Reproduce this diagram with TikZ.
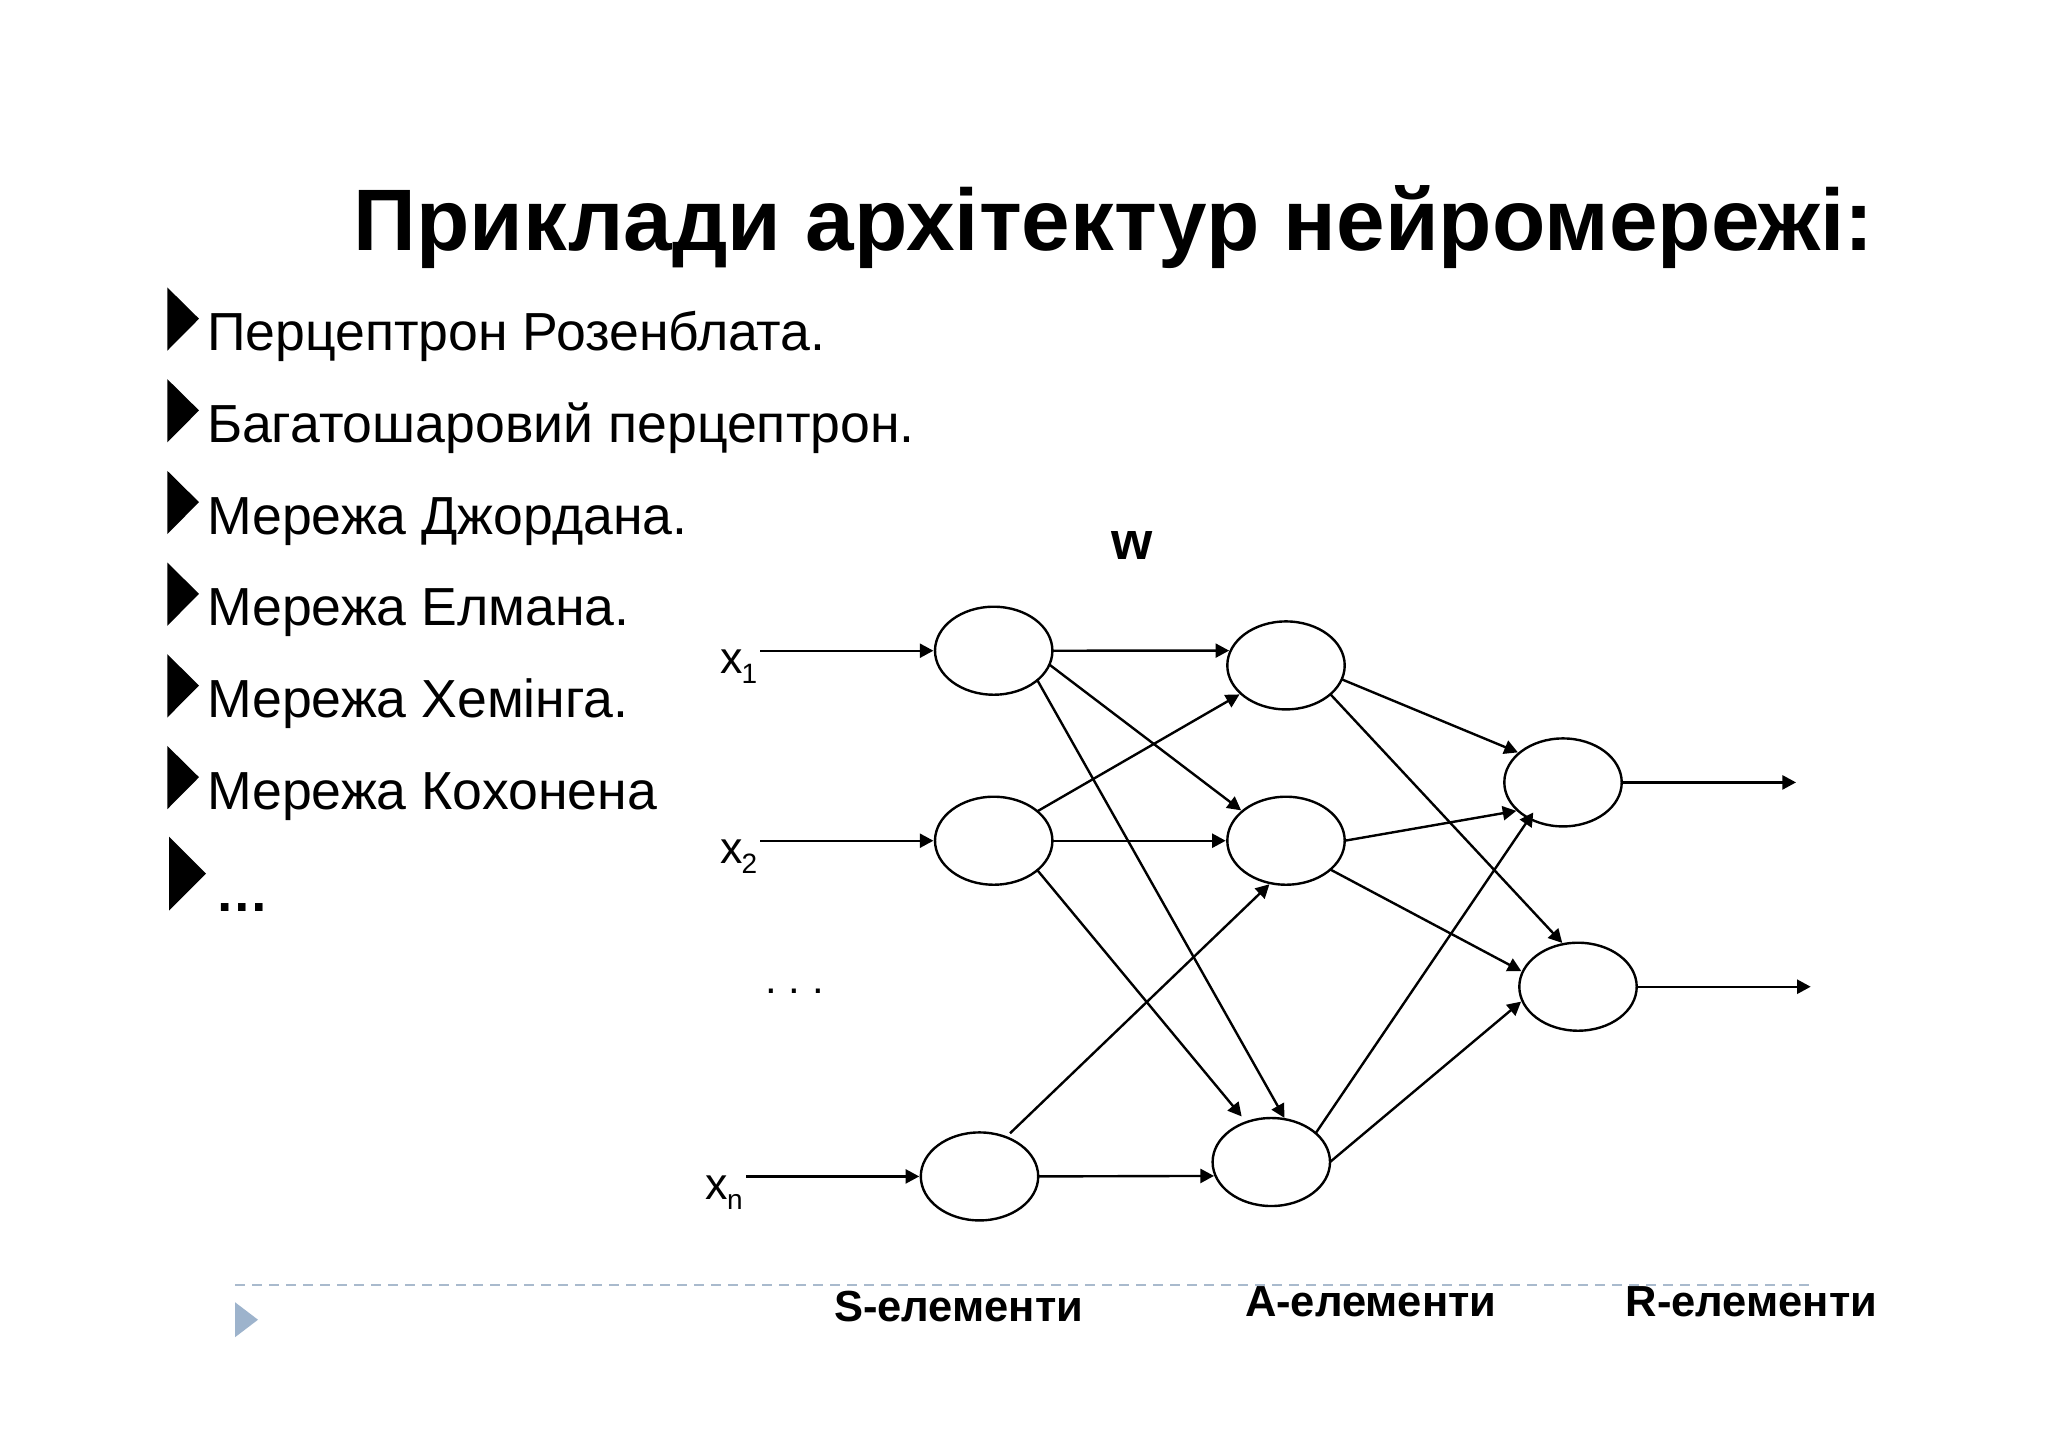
\documentclass[tikz,border=0pt]{standalone}
\usepackage{fontspec}
\setmainfont{Liberation Sans}
\usetikzlibrary{shapes.geometric,arrows.meta}
\tikzset{
  neuron/.style={ellipse,draw=black,fill=white,line width=1.2pt,minimum width=58.7pt,minimum height=44pt,inner sep=0pt,outer sep=0pt},
  link/.style={line width=1.2pt,shorten >=0.8pt,-{Triangle[length=6.8pt,width=7pt]}},
  txt/.style={anchor=base west,inner sep=0pt,outer sep=0pt,text=black},
  titletxt/.style={txt,font=\fontsize{43.66}{50}\selectfont\bfseries},
  bodytxt/.style={txt,font=\fontsize{26.8}{30}\selectfont},
  labeltxt/.style={txt,font=\fontsize{22.4}{26}\selectfont\frenchspacing},
  boldtxt/.style={txt,font=\fontsize{21.75}{26}\selectfont\bfseries},
  bull/.style={fill=black,draw=none},
}
\definecolor{slidedash}{HTML}{A9BACD}
\definecolor{slidetri}{HTML}{9DB3CC}
\newcommand{\subx}[1]{x\kern-0.4pt\raisebox{-5pt}{\fontsize{14}{14}\selectfont #1}}
\begin{document}
\begin{tikzpicture}[x=0.5pt,y=-0.5pt]
\useasboundingbox[fill=white] (0,0) rectangle (2048,1448);
\begin{scope}[yshift=-0.35pt]
% footer
\coordinate (dashL) at (235,1284);
\coordinate (dashR) at (1812,1284);
\draw[slidedash,line width=1pt,dash pattern=on 5pt off 3.5pt] (dashL) -- (dashR);
\fill[slidetri] (235,1301.5) -- (258,1319) -- (235,1336.5) -- cycle;
% title
\node[titletxt] (title) at (353.5,249.3) {Приклади архітектур нейромережі:};
% bullets
\foreach \i/\t in {0/Перцептрон Розенблата.,1/Багатошаровий перцептрон.,2/Мережа Джордана.,3/Мережа Елмана.,4/Мережа Хемінга.,5/Мережа Кохонена}{
  \fill[bull] (167.3,{286.7+91.7*\i}) -- (199,{318+91.7*\i}) -- (167.3,{350+91.7*\i}) -- cycle;
  \node[bodytxt] (item\i) at (207,{350+91.7*\i}) {\t};
}
\fill[bull] (169,836) -- (206,873) -- (169,910) -- cycle;
\node[bodytxt,font=\fontsize{26.8}{30}\selectfont\bfseries] (item6) at (215,910.7) {…};
% neurons
\node[neuron] (S1) at (993.7,650) {};
\node[neuron] (S2) at (993.7,840) {};
\node[neuron] (Sn) at (979.5,1175.7) {};
\node[neuron] (A1) at (1286,664.7) {};
\node[neuron] (A2) at (1286,840) {};
\node[neuron] (A3) at (1271.3,1161.3) {};
\node[neuron] (R1) at (1563,781.7) {};
\node[neuron] (R2) at (1578,986) {};
% free ends
\coordinate (in1) at (760,650);
\coordinate (in2) at (760,840);
\coordinate (inn) at (746,1175.7);
\coordinate (out1) at (1796,781.7);
\coordinate (out2) at (1810.7,986);
\coordinate (R1tip) at (1533.3,811.7);
% labels
\node[labeltxt] (x1) at (720,672.7) {\subx{1}};
\node[labeltxt] (x2) at (720,862.7) {\subx{2}};
\node[labeltxt] (xn) at (705.5,1198.4) {\subx{n}};
\node[labeltxt,font=\fontsize{21}{26}\selectfont\frenchspacing] (dots) at (765.5,993) {. . .};
\node[boldtxt,font=\fontsize{26.5}{30}\selectfont\bfseries] (w) at (1111,558.5) {w};
\node[boldtxt] (Sl) at (834,1320.7) {S-елементи};
\node[boldtxt] (Al) at (1245,1315.5) {A-елементи};
\node[boldtxt] (Rl) at (1625.7,1315.5) {R-елементи};
% connectors
\draw[link] (in1) -- (S1.west);
\draw[link] (in2) -- (S2.west);
\draw[link] (inn) -- (Sn.west);
\draw[link] (S1.east) -- (A1.165);
\draw[link] (S1.-14.4) -- (A2.146);
\draw[link] (S1.-34) -- (A3.72);
\draw[link] (S2.34) -- (A1.212);
\draw[link] (S2.east) -- (A2.west);
\draw[link,shorten >=3.75pt] (S2.-34) -- (A3.122.8);
\draw[link,shorten <=2.8pt] (Sn.56.2) -- (A2.250.8);
\draw[link] (Sn.east) -- (A3.194.3);
\draw[link] (A1.-14.6) -- (R1.146.3);
\draw[link] (A1.-33.9) -- (R2.109.5);
\draw[link] (A2.east) -- (R1.212);
\draw[link] (A2.-33.9) -- (R2.165.5);
\draw[link,shorten >=0pt] (A3.33.5) -- (R1tip);
\draw[link] (A3.east) -- (R2.194.3);
\draw[link,shorten >=0pt] (R1.east) -- (out1);
\draw[link,shorten >=0pt] (R2.east) -- (out2);
\end{scope}
\end{tikzpicture}
\end{document}
